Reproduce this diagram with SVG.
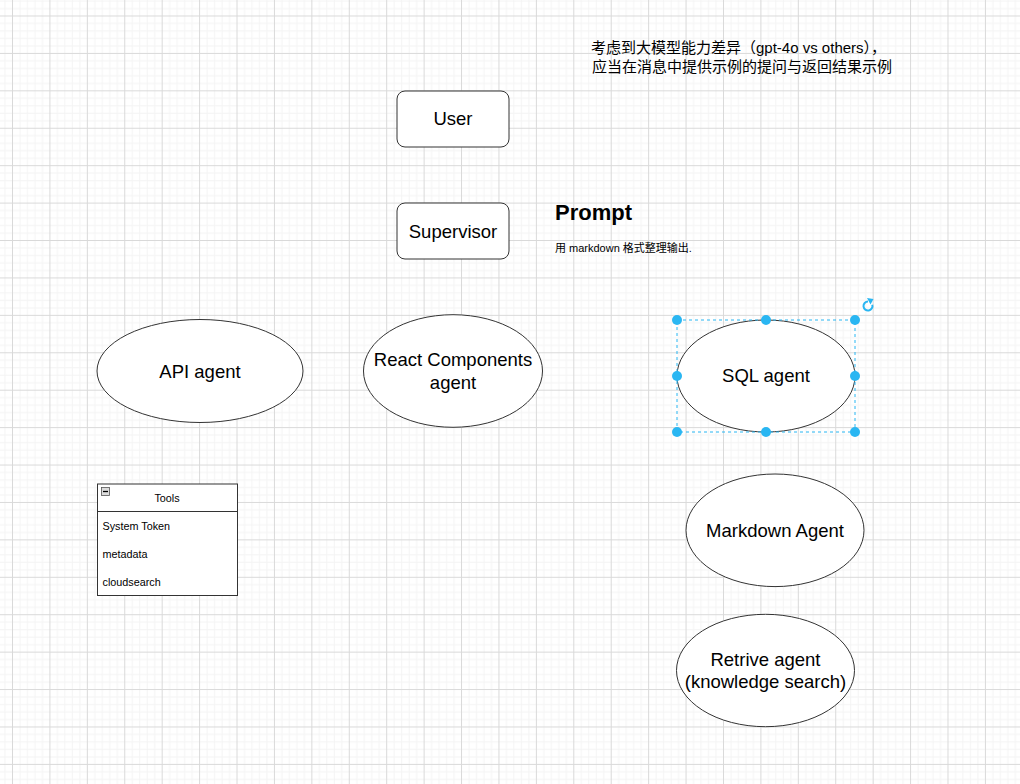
<svg xmlns="http://www.w3.org/2000/svg" width="1020" height="784" viewBox="0 0 1020 784">
<style>
.t{font-family:"Liberation Sans","Noto Sans CJK SC",Arial,sans-serif;fill:#000}
.lbl{font-size:18.5px;text-anchor:middle}
.sm{font-size:10.8px}
.shape{fill:#fff;stroke:#333;stroke-width:1}
.handle{fill:#29b6f2}
</style>
<defs>
<pattern id="grid" width="37.42" height="37.42" patternUnits="userSpaceOnUse" x="12" y="15.5">
<path d="M7.98 0V37.42M15.47 0V37.42M22.95 0V37.42M30.44 0V37.42M0 7.98H37.42M0 15.47H37.42M0 22.95H37.42M0 30.44H37.42" stroke="#f4f4f4" stroke-width="1" fill="none"/>
<path d="M0.5 0V37.42M0 0.5H37.42" stroke="#d9d9d9" stroke-width="1" fill="none"/>
</pattern>
</defs>
<rect width="1020" height="784" fill="#fff"/>
<rect width="1020" height="784" fill="url(#grid)"/>

<g id="connectors"></g>

<g id="note">
<text class="t" x="591" y="53" font-size="15">考虑到大模型能力差异（gpt-4o vs others），</text>
<text class="t" x="592" y="72" font-size="15">应当在消息中提供示例的提问与返回结果示例</text>
</g>

<g id="user">
<rect class="shape" x="397" y="91" width="112" height="56" rx="8"/>
<text class="t lbl" x="453" y="124.5">User</text>
</g>

<g id="supervisor">
<rect class="shape" x="397" y="203" width="112" height="56" rx="8"/>
<text class="t lbl" x="453" y="237.5">Supervisor</text>
</g>

<g id="prompt">
<text class="t" x="555" y="220" font-size="22" font-weight="bold">Prompt</text>
<text class="t" x="555" y="252" font-size="11">用 markdown 格式整理输出.</text>
</g>

<g id="api-agent">
<ellipse class="shape" cx="200" cy="371" rx="103" ry="51.5"/>
<text class="t lbl" x="200" y="377.5">API agent</text>
</g>

<g id="react-agent">
<ellipse class="shape" cx="453" cy="371" rx="89.5" ry="56.3"/>
<text class="t lbl" x="453" y="365.5">React Components</text>
<text class="t lbl" x="453" y="388.5">agent</text>
</g>

<g id="sql-agent">
<ellipse class="shape" cx="766" cy="376" rx="89" ry="56"/>
<text class="t lbl" x="766" y="382">SQL agent</text>
<rect x="677" y="320" width="178" height="112" fill="none" stroke="#29b6f2" stroke-width="1" stroke-dasharray="3 3"/>
<circle class="handle" cx="677" cy="320" r="5"/>
<circle class="handle" cx="766" cy="320" r="5"/>
<circle class="handle" cx="855" cy="320" r="5"/>
<circle class="handle" cx="677" cy="376" r="5"/>
<circle class="handle" cx="855" cy="376" r="5"/>
<circle class="handle" cx="677" cy="432" r="5"/>
<circle class="handle" cx="766" cy="432" r="5"/>
<circle class="handle" cx="855" cy="432" r="5"/>
<path d="M868 301.5 A4.5 4.5 0 1 0 872.3 304.7" fill="none" stroke="#29b6f2" stroke-width="2"/>
<path d="M867 298 L873.5 299 L870.5 304.5 Z" fill="#29b6f2"/>
</g>

<g id="markdown-agent">
<ellipse class="shape" cx="775" cy="530.3" rx="89" ry="56.3"/>
<text class="t lbl" x="775" y="536.5">Markdown Agent</text>
</g>

<g id="retrive-agent">
<ellipse class="shape" cx="765.5" cy="670.5" rx="89" ry="56.2"/>
<text class="t lbl" x="765.5" y="665.5">Retrive agent</text>
<text class="t lbl" x="765.5" y="688">(knowledge search)</text>
</g>

<g id="tools">
<rect x="97.5" y="484" width="140" height="111.5" fill="#fff" stroke="#333" stroke-width="1"/>
<line x1="97.5" y1="511.5" x2="237.5" y2="511.5" stroke="#333" stroke-width="1"/>
<rect x="101.5" y="487.5" width="8" height="8" fill="#dcdcdc" stroke="#555" stroke-width="0.8"/>
<line x1="103" y1="491.5" x2="108" y2="491.5" stroke="#000" stroke-width="1.3"/>
<text class="t sm" x="167" y="502" text-anchor="middle">Tools</text>
<text class="t sm" x="102.5" y="529.5">System Token</text>
<text class="t sm" x="102.5" y="557.5">metadata</text>
<text class="t sm" x="102.5" y="585.5">cloudsearch</text>
</g>
</svg>
